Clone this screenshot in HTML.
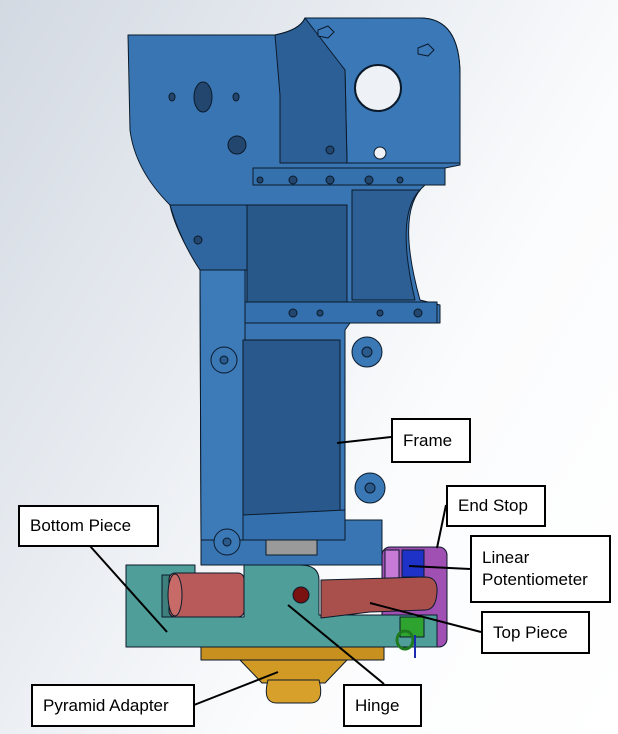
<!DOCTYPE html>
<html><head><meta charset="utf-8"><style>
html,body{margin:0;padding:0}
body{width:618px;height:734px;overflow:hidden;background:linear-gradient(120deg,#d3d9e2 0%,#e8ecf1 35%,#fbfcfd 65%,#fff 100%);font-family:"Liberation Sans",sans-serif}
svg{position:absolute;left:0;top:0}
.lb{position:absolute;background:#fff;border:2px solid #000;box-sizing:border-box;font-size:17px;color:#000;padding-left:10px;display:flex;align-items:center;line-height:22px}
</style></head><body>
<svg width="618" height="734" viewBox="0 0 618 734">
<g stroke="#0b1a2a" stroke-width="1" stroke-linejoin="round">
<!-- top left plate -->
<path d="M128 35 L275 35 Q300 30 305 18 L420 18 Q460 18 460 75 L460 165 L445 168 L445 185 L425 185 Q395 210 420 300 L440 305 L440 323 L350 323 L345 330 L345 520 L382 520 L382 565 L201 565 L201 540 L200 270 Q175 230 170 205 Q135 170 130 130 Z" fill="#3a75b3"/>
<!-- right block face -->
<path d="M305 18 L420 18 Q460 18 460 75 L460 163 L347 163 L345 70 Q320 40 305 18Z" fill="#3a78b8"/>
<!-- dark recesses -->
<path d="M275 35 Q300 30 305 18 L345 70 L347 163 L280 163 L280 95 Z" fill="#2c5f96"/>
<path d="M253 168 L445 168 L445 185 L253 185 Z" fill="#3572ad"/>
<path d="M247 205 L347 205 L347 305 L247 305 Z" fill="#28578a"/>
<path d="M170 205 L247 205 L247 270 L200 270 Q180 240 170 205Z" fill="#2f66a0"/>
<path d="M352 190 L420 190 Q395 215 415 300 L352 300 Z" fill="#2d5f95"/>
<path d="M243 302 L437 302 L437 323 L243 323 Z" fill="#3470ad"/>
<!-- column -->
<path d="M200 270 L245 270 L245 540 L201 540 Z" fill="#3d7ab8"/>
<path d="M243 340 L340 340 L340 515 L243 515 Z" fill="#28588c"/>
<path d="M243 515 L345 510 L345 540 L243 540Z" fill="#3470ad"/>
<circle cx="367" cy="352" r="15" fill="#3b78b6"/><circle cx="367" cy="352" r="5" fill="#2a5a8c"/>
<circle cx="370" cy="488" r="15" fill="#3b78b6"/><circle cx="370" cy="488" r="5" fill="#2a5a8c"/>
<circle cx="224" cy="360" r="13" fill="#3b78b6"/><circle cx="224" cy="360" r="4" fill="#2a5a8c"/>
<circle cx="227" cy="542" r="13" fill="#3b78b6"/><circle cx="227" cy="542" r="4" fill="#2a5a8c"/>
<!-- holes -->
<circle cx="378" cy="88" r="23" fill="#eef1f5" stroke-width="2"/>
<ellipse cx="203" cy="97" rx="9" ry="15" fill="#22466e"/>
<ellipse cx="172" cy="97" rx="3" ry="4" fill="#22466e"/>
<ellipse cx="236" cy="97" rx="3" ry="4" fill="#22466e"/>
<circle cx="237" cy="145" r="9" fill="#22466e"/>
<circle cx="380" cy="153" r="6" fill="#eef1f5"/>
<circle cx="330" cy="150" r="4" fill="#22466e"/>
<polygon points="318,30 328,26 334,32 328,38 318,36" fill="#3a78b8"/>
<polygon points="418,48 428,44 434,50 428,56 418,54" fill="#3a78b8"/>
<g fill="#22466e"><circle cx="260" cy="180" r="3"/><circle cx="293" cy="180" r="4"/><circle cx="330" cy="180" r="4"/><circle cx="369" cy="180" r="4"/><circle cx="400" cy="180" r="3"/><circle cx="293" cy="313" r="4"/><circle cx="320" cy="313" r="3"/><circle cx="380" cy="313" r="3"/><circle cx="418" cy="313" r="4"/><circle cx="198" cy="240" r="4"/></g>
<rect x="266" y="540" width="51" height="15" fill="#9a9a9a"/>
<!-- gold pyramid -->
<rect x="201" y="647" width="183" height="13" fill="#c8901e"/>
<path d="M240 660 L347 660 L325 683 L262 683Z" fill="#d09a25"/>
<path d="M268 680 L319 680 Q325 703 310 703 L277 703 Q262 703 268 680Z" fill="#d6a02a"/>
<!-- purple end stop -->
<rect x="382" y="547" width="65" height="100" rx="8" fill="#a04fb2"/>
<rect x="385" y="550" width="14" height="35" fill="#c77ad6"/>
<rect x="402" y="550" width="22" height="27" fill="#1f32c8"/>
<!-- teal bottom piece -->
<path d="M126 565 L195 565 L195 617 L244 617 L244 565 L300 565 Q319 565 319 580 L319 615 L437 615 L437 647 L126 647 Z" fill="#4f9e9a"/>
<rect x="162" y="575" width="33" height="42" fill="#3e7f7c"/>
<rect x="169" y="573" width="75" height="44" rx="6" fill="#b85a5a"/>
<ellipse cx="175" cy="595" rx="7" ry="21" fill="#c86a68"/>
<circle cx="301" cy="595" r="8" fill="#7a1212"/>
<!-- top piece -->
<path d="M321 580 L425 577 Q438 577 437 592 Q436 610 425 610 L370 612 L321 618 Z" fill="#a9504c"/>
<!-- green -->
<rect x="400" y="617" width="24" height="20" fill="#2fa32f"/>
<ellipse cx="405" cy="640" rx="8" ry="9" fill="none" stroke="#1f7a1f" stroke-width="3"/>
<line x1="415" y1="635" x2="415" y2="658" stroke="#1a2bb0" stroke-width="2"/>
</g>
<!-- leader lines -->
<g stroke="#000" stroke-width="2">
<line x1="337" y1="443" x2="391" y2="437"/>
<line x1="90" y1="546" x2="167" y2="632"/>
<line x1="446" y1="505" x2="437" y2="548"/>
<line x1="470" y1="569" x2="409" y2="566"/>
<line x1="481" y1="632" x2="370" y2="603"/>
<line x1="194" y1="705" x2="278" y2="672"/>
<line x1="384" y1="684" x2="288" y2="605"/>
</g>
</svg>
<div class="lb" style="left:391px;top:418px;width:80px;height:45px">Frame</div>
<div class="lb" style="left:446px;top:485px;width:100px;height:42px">End Stop</div>
<div class="lb" style="left:18px;top:505px;width:141px;height:42px">Bottom Piece</div>
<div class="lb" style="left:470px;top:535px;width:141px;height:68px">Linear<br>Potentiometer</div>
<div class="lb" style="left:481px;top:611px;width:109px;height:43px">Top Piece</div>
<div class="lb" style="left:31px;top:684px;width:164px;height:43px">Pyramid Adapter</div>
<div class="lb" style="left:343px;top:684px;width:79px;height:43px">Hinge</div>
</body></html>
